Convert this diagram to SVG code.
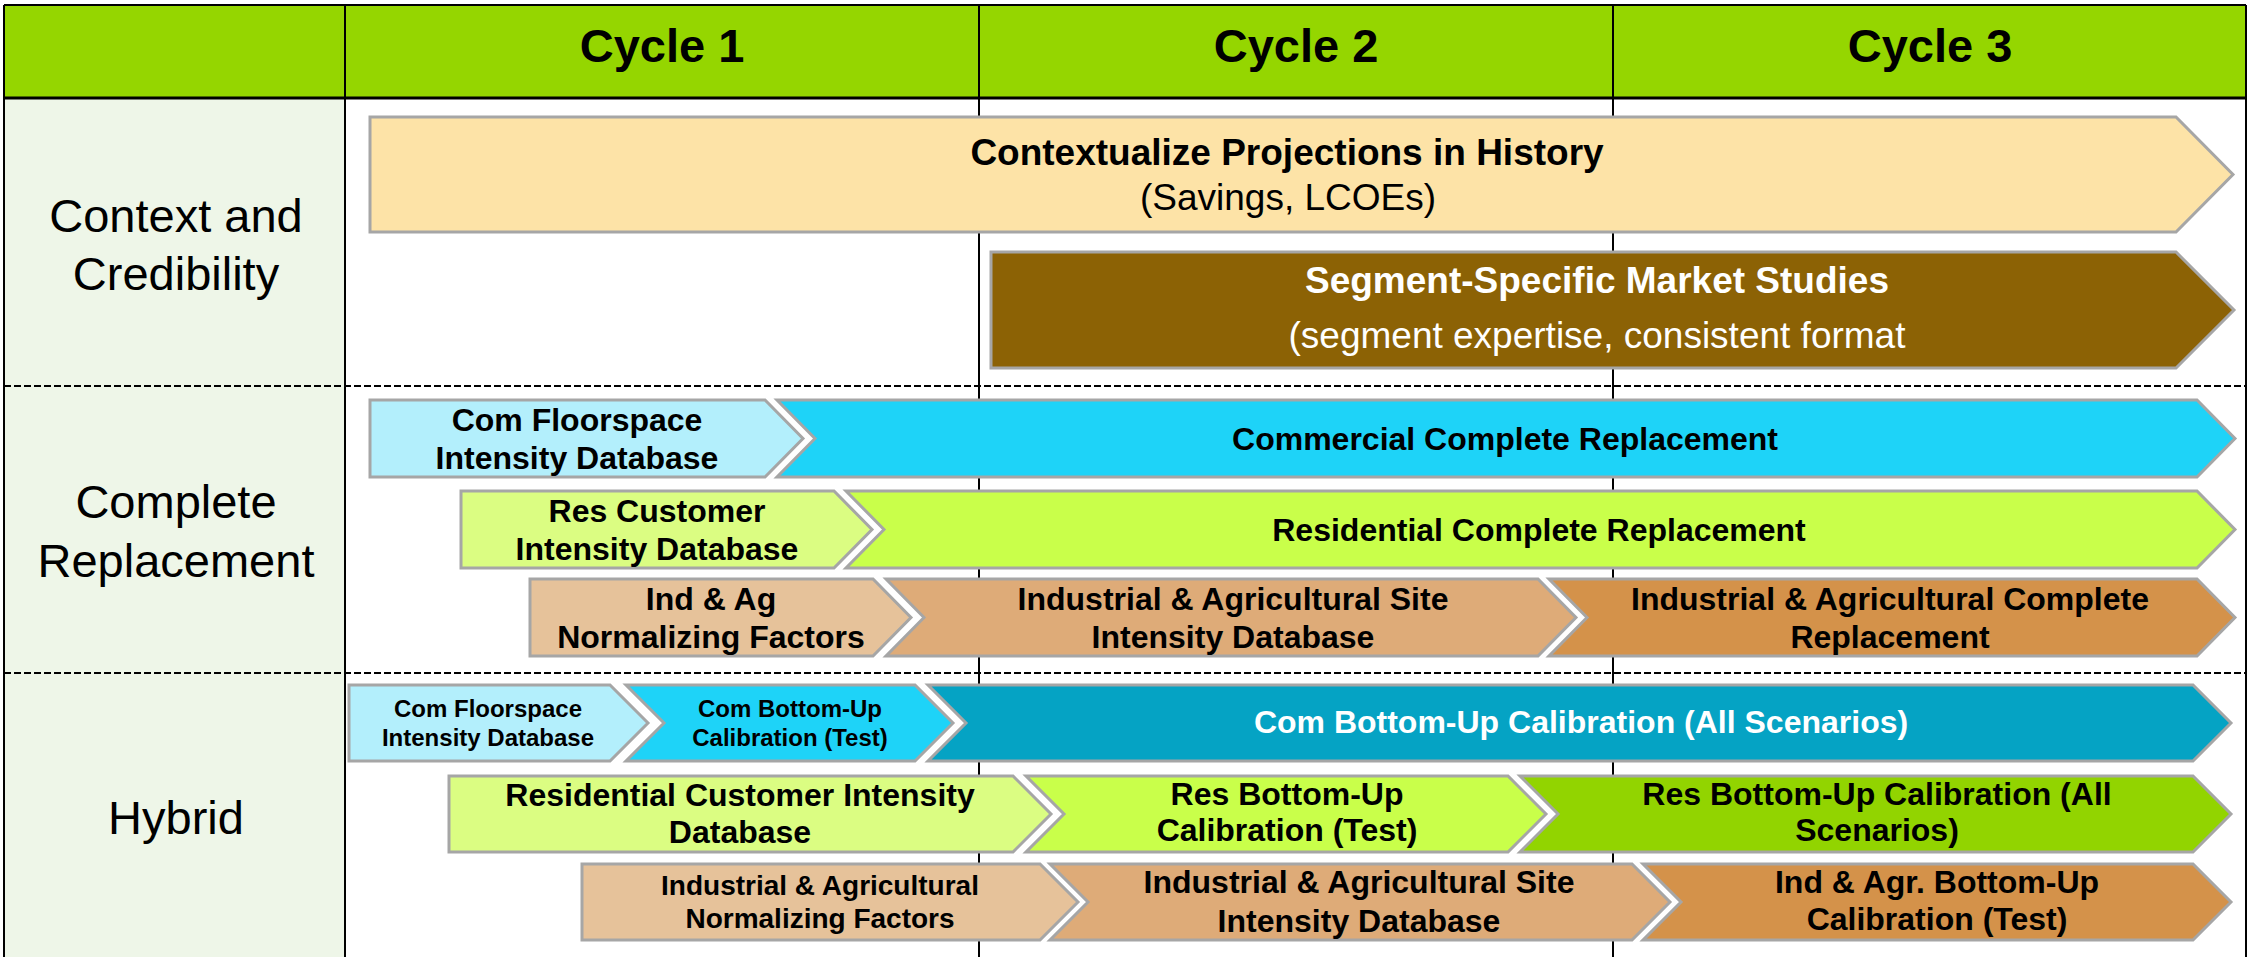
<svg xmlns="http://www.w3.org/2000/svg" width="2252" height="957" viewBox="0 0 2252 957">
<style>
.hdr{font-family:"Liberation Sans",Arial,sans-serif;font-weight:bold;font-size:47px;fill:#000;text-anchor:middle}
.lbl{font-family:"Liberation Sans",Arial,sans-serif;font-size:47px;fill:#000;text-anchor:middle}
.t36{font-family:"Liberation Sans",Arial,sans-serif;font-weight:bold;font-size:37px;text-anchor:middle}
.r36{font-family:"Liberation Sans",Arial,sans-serif;font-size:37px;text-anchor:middle}
.t32{font-family:"Liberation Sans",Arial,sans-serif;font-weight:bold;font-size:32px;fill:#000;text-anchor:middle}
.t28{font-family:"Liberation Sans",Arial,sans-serif;font-weight:bold;font-size:28px;fill:#000;text-anchor:middle}
.t24{font-family:"Liberation Sans",Arial,sans-serif;font-weight:bold;font-size:24px;fill:#000;text-anchor:middle}
.w{fill:#fff}
.k{fill:#000}
.sh{stroke:#A6A6A6;stroke-width:3;stroke-linejoin:miter}
.solid{stroke:#000;stroke-width:2;fill:none}
.dash{stroke:#000;stroke-width:2;stroke-dasharray:7 3;fill:none}
</style>

<g id="table">
  <rect x="4" y="5" width="2242" height="93" fill="#95D600"/>
  <rect x="4" y="98" width="341" height="859" fill="#EEF6E8"/>
  <rect x="345" y="98" width="1901" height="859" fill="#FFFFFF"/>
  <line class="solid" x1="4" y1="5" x2="2246" y2="5" stroke="#333"/>
  <line x1="4" y1="98" x2="2246" y2="98" stroke="#000" stroke-width="3"/>
  <line class="solid" x1="4" y1="5" x2="4" y2="957"/>
  <line class="solid" x1="2246" y1="5" x2="2246" y2="957"/>
  <line class="solid" x1="345" y1="5" x2="345" y2="957"/>
  <line class="solid" x1="979" y1="5" x2="979" y2="957"/>
  <line class="solid" x1="1613" y1="5" x2="1613" y2="957"/>
  <line class="dash" x1="4" y1="386" x2="2246" y2="386"/>
  <line class="dash" x1="4" y1="673" x2="2246" y2="673"/>
  <text class="hdr" x="662" y="62">Cycle 1</text>
  <text class="hdr" x="1296" y="62">Cycle 2</text>
  <text class="hdr" x="1930" y="62">Cycle 3</text>
  <text class="lbl" x="176" y="232">Context and</text>
  <text class="lbl" x="176" y="290">Credibility</text>
  <text class="lbl" x="176" y="518">Complete</text>
  <text class="lbl" x="176" y="577">Replacement</text>
  <text class="lbl" x="176" y="834">Hybrid</text>
</g>

<g id="connectors"></g>

<g id="contextualize">
  <polygon class="sh" fill="#FDE3A7" points="370,117 2176,117 2233,174.5 2176,232 370,232"/>
  <text class="t36 k" x="1287" y="165">Contextualize Projections in History</text>
  <text class="r36 k" x="1288" y="210">(Savings, LCOEs)</text>
</g>
<g id="segment">
  <polygon class="sh" fill="#8C6205" points="991,252 2176,252 2234,310 2176,368 991,368"/>
  <text class="t36 w" x="1597" y="293">Segment-Specific Market Studies</text>
  <text class="r36 w" x="1597" y="348">(segment expertise, consistent format</text>
</g>

<g id="cr-com-floorspace">
  <polygon class="sh" fill="#B3EFFC" points="370,400 765,400 803,438.5 765,477 370,477"/>
  <text class="t32" x="577" y="431">Com Floorspace</text>
  <text class="t32" x="577" y="469">Intensity Database</text>
</g>
<g id="cr-commercial">
  <polygon class="sh" fill="#1ED3F8" points="777,400 2197,400 2235,438.5 2197,477 777,477 815,438.5"/>
  <text class="t32" x="1505" y="450">Commercial Complete Replacement</text>
</g>
<g id="cr-res-customer">
  <polygon class="sh" fill="#DBFD82" points="461,491 834,491 872,529.5 834,568 461,568"/>
  <text class="t32" x="657" y="522">Res Customer</text>
  <text class="t32" x="657" y="560">Intensity Database</text>
</g>
<g id="cr-residential">
  <polygon class="sh" fill="#C9FF4A" points="846,491 2197,491 2235,529.5 2197,568 846,568 884,529.5"/>
  <text class="t32" x="1539" y="541">Residential Complete Replacement</text>
</g>
<g id="cr-ind-norm">
  <polygon class="sh" fill="#E6C29A" points="530,579 873,579 911,617.5 873,656 530,656"/>
  <text class="t32" x="711" y="610">Ind &amp; Ag</text>
  <text class="t32" x="711" y="648">Normalizing Factors</text>
</g>
<g id="cr-ind-site">
  <polygon class="sh" fill="#DEAB78" points="886,579 1538,579 1576,617.5 1538,656 886,656 924,617.5"/>
  <text class="t32" x="1233" y="610">Industrial &amp; Agricultural Site</text>
  <text class="t32" x="1233" y="648">Intensity Database</text>
</g>
<g id="cr-ind-complete">
  <polygon class="sh" fill="#D4924A" points="1549,579 2197,579 2235,617.5 2197,656 1549,656 1587,617.5"/>
  <text class="t32" x="1890" y="610">Industrial &amp; Agricultural Complete</text>
  <text class="t32" x="1890" y="648">Replacement</text>
</g>

<g id="hy-com-floorspace">
  <polygon class="sh" fill="#B3EFFC" points="349,685 610,685 648,723 610,761 349,761"/>
  <text class="t24" x="488" y="717">Com Floorspace</text>
  <text class="t24" x="488" y="746">Intensity Database</text>
</g>
<g id="hy-com-test">
  <polygon class="sh" fill="#1ED3F8" points="626,685 915,685 953,723 915,761 626,761 664,723"/>
  <text class="t24" x="790" y="717">Com Bottom-Up</text>
  <text class="t24" x="790" y="746">Calibration (Test)</text>
</g>
<g id="hy-com-all">
  <polygon class="sh" fill="#05A3C4" points="928,685 2193,685 2231,723 2193,761 928,761 966,723"/>
  <text class="t32 w" x="1581" y="733">Com Bottom-Up Calibration (All Scenarios)</text>
</g>
<g id="hy-res-customer">
  <polygon class="sh" fill="#DBFD82" points="449,776 1013,776 1051,814 1013,852 449,852"/>
  <text class="t32" x="740" y="806">Residential Customer Intensity</text>
  <text class="t32" x="740" y="843">Database</text>
</g>
<g id="hy-res-test">
  <polygon class="sh" fill="#C9FF4A" points="1026,776 1508,776 1546,814 1508,852 1026,852 1064,814"/>
  <text class="t32" x="1287" y="805">Res Bottom-Up</text>
  <text class="t32" x="1287" y="841">Calibration (Test)</text>
</g>
<g id="hy-res-all">
  <polygon class="sh" fill="#92D400" points="1520,776 2193,776 2231,814 2193,852 1520,852 1558,814"/>
  <text class="t32" x="1877" y="805">Res Bottom-Up Calibration (All</text>
  <text class="t32" x="1877" y="841">Scenarios)</text>
</g>
<g id="hy-ind-norm">
  <polygon class="sh" fill="#E6C29A" points="582,864 1040,864 1078,902 1040,940 582,940"/>
  <text class="t28" x="820" y="895">Industrial &amp; Agricultural</text>
  <text class="t28" x="820" y="928">Normalizing Factors</text>
</g>
<g id="hy-ind-site">
  <polygon class="sh" fill="#DEAB78" points="1050,864 1632,864 1670,902 1632,940 1050,940 1088,902"/>
  <text class="t32" x="1359" y="893">Industrial &amp; Agricultural Site</text>
  <text class="t32" x="1359" y="932">Intensity Database</text>
</g>
<g id="hy-ind-test">
  <polygon class="sh" fill="#D4924A" points="1643,864 2193,864 2231,902 2193,940 1643,940 1681,902"/>
  <text class="t32" x="1937" y="893">Ind &amp; Agr. Bottom-Up</text>
  <text class="t32" x="1937" y="930">Calibration (Test)</text>
</g>
</svg>
